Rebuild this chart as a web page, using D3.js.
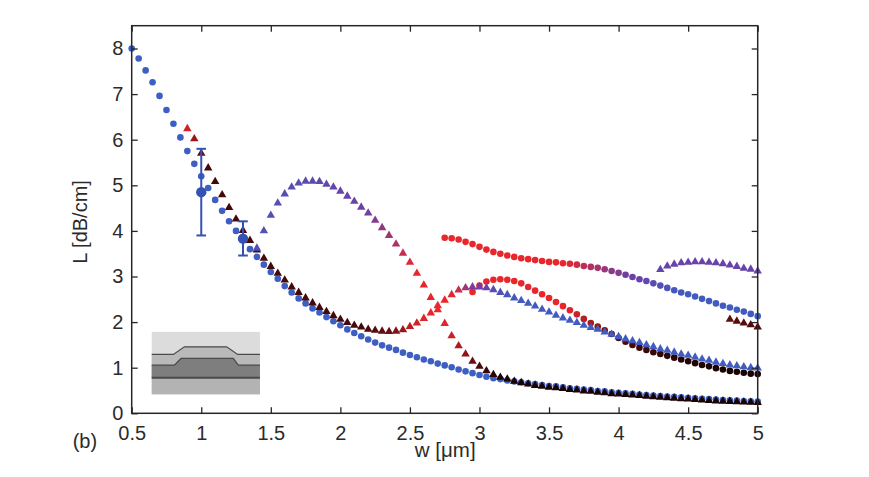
<!DOCTYPE html>
<html><head><meta charset="utf-8">
<script src="https://cdn.jsdelivr.net/npm/d3@7"></script>
<style>
body{margin:0;background:#fff}
svg{display:block}
text{font-family:"Liberation Sans",Arial,Helvetica,sans-serif;fill:#2b2b2b}
</style>
</head><body>
<svg id="chart" width="869" height="477"></svg>
<script>
// ---------- data ----------
const widths = [
0.50,0.55,0.60,0.65,0.70,0.75,0.80,0.85,0.90,0.95,
1.00,1.05,1.10,1.15,1.20,1.25,1.30,1.35,1.40,1.45,
1.50,1.55,1.60,1.65,1.70,1.75,1.80,1.85,1.90,1.95,
2.00,2.05,2.10,2.15,2.20,2.25,2.30,2.35,2.40,2.45,
2.50,2.55,2.60,2.65,2.70,2.75,2.80,2.85,2.90,2.95,
3.00,3.05,3.10,3.15,3.20,3.25,3.30,3.35,3.40,3.45,
3.50,3.55,3.60,3.65,3.70,3.75,3.80,3.85,3.90,3.95,
4.00,4.05,4.10,4.15,4.20,4.25,4.30,4.35,4.40,4.45,
4.50,4.55,4.60,4.65,4.70,4.75,4.80,4.85,4.90,4.95,
5.00];

const xTicks = [0.5,1,1.5,2,2.5,3,3.5,4,4.5,5];
const yTicks = [0,1,2,3,4,5,6,7,8];

// Series A: circles, from w = 0.50
const lossA = [
8.00,7.78,7.52,7.26,6.96,6.65,6.35,6.05,5.75,5.47,
5.20,4.94,4.68,4.44,4.21,4.00,3.80,3.60,3.43,3.26,
3.10,2.95,2.79,2.65,2.52,2.41,2.30,2.21,2.11,2.02,
1.93,1.84,1.76,1.69,1.62,1.55,1.49,1.44,1.39,1.33,
1.28,1.23,1.18,1.14,1.09,1.05,1.01,0.96,0.92,0.88,
0.84,0.80,0.77,0.75,0.72,0.70,0.68,0.66,0.64,0.62,
0.60,0.59,0.57,0.55,0.54,0.52,0.51,0.49,0.48,0.46,
0.45,0.44,0.43,0.41,0.40,0.39,0.38,0.37,0.36,0.35,
0.34,0.33,0.32,0.31,0.30,0.29,0.285,0.28,0.27,0.265,
0.26];
const toneA = 0.0;

// Series B: triangles, from w = 0.90
const lossB = [
6.24,6.02,
5.70,5.38,5.08,4.79,4.51,4.26,4.01,3.79,3.58,3.40,
3.22,3.07,2.92,2.77,2.65,2.53,2.42,2.32,2.23,2.14,
2.06,1.99,1.93,1.89,1.84,1.82,1.80,1.79,1.80,1.83,
1.90,1.98,2.08,2.20,2.36,2.48,2.60,2.70,2.75,2.77,
2.77,2.75,2.71,2.65,2.60,2.53,2.47,2.41,2.35,2.28,
2.22,2.15,2.09,2.04,1.99,1.93,1.88,1.84,1.78,1.73,
1.68,1.63,1.59,1.55,1.50,1.46,1.41,1.38,1.34,1.30,
1.27,1.23,1.19,1.16,1.12,1.09,1.06,1.04,1.02,1.00,
0.99];
const toneB = [
0.64,0.74,
0.84,0.90,0.90,0.90,0.90,0.90,0.90,0.90,0.90,0.90,
0.90,0.90,0.90,0.90,0.90,0.90,0.90,0.90,0.90,0.90,
0.90,0.90,0.90,0.90,0.88,0.86,0.84,0.82,0.78,0.74,
0.68,0.64,0.61,0.60,0.60,0.60,0.58,0.52,0.42,0.34,
0.30,0.24,0.18,0.12,0.08,0.05,0.03,0.03,0.03,0.03,
0.03,0.03,0.03,0.03,0.03,0.03,0.03,0.03,0.03,0.03,
0.03,0.03,0.03,0.03,0.03,0.03,0.03,0.03,0.03,0.03,
0.03,0.03,0.03,0.03,0.03,0.03,0.03,0.03,0.03,0.03,
0.03];

// Series C: triangles, from w = 1.40
const lossC = [
3.62,4.00,
4.34,4.61,4.81,4.96,5.05,5.09,5.09,5.08,5.02,4.96,
4.87,4.76,4.65,4.52,4.39,4.23,4.07,3.90,3.71,3.51,
3.31,3.07,2.81,2.54,2.27,1.97,1.70,1.48,1.30,1.14,
1.03,0.93,0.85,0.79,0.75,0.70,0.67,0.64,0.61,0.59,
0.57,0.56,0.54,0.52,0.51,0.49,0.48,0.46,0.45,0.43,
0.42,0.41,0.40,0.39,0.37,0.36,0.35,0.34,0.33,0.32,
0.31,0.30,0.29,0.28,0.27,0.265,0.26,0.25,0.245,0.24,
0.235];
const toneC = [
0.12,0.13,
0.14,0.15,0.16,0.17,0.18,0.19,0.20,0.21,0.22,0.23,
0.25,0.27,0.28,0.30,0.32,0.35,0.38,0.42,0.46,0.52,
0.57,0.60,0.60,0.60,0.60,0.61,0.65,0.70,0.76,0.82,
0.88,0.93,0.97,1,1,1,1,1,1,1,
1,1,1,1,1,1,1,1,1,1,
1,1,1,1,1,1,1,1,1,1,
1,1,1,1,1,1,1,1,1,1,
1];

// Series D: circles, from w = 2.95
const lossD = [
2.66,
2.80,2.89,2.93,2.94,2.93,2.90,2.85,2.77,2.69,2.61,
2.53,2.44,2.35,2.26,2.17,2.07,1.98,1.90,1.82,1.74,
1.65,1.57,1.50,1.44,1.39,1.34,1.30,1.26,1.22,1.18,
1.14,1.10,1.06,1.03,0.99,0.96,0.93,0.91,0.89,0.87,
0.86];
const toneD = [
0.60,
0.60,0.60,0.60,0.60,0.60,0.60,0.60,0.60,0.60,0.60,
0.60,0.60,0.60,0.62,0.65,0.68,0.72,0.76,0.80,0.84,
0.87,0.89,0.90,0.91,0.92,0.93,0.94,0.95,0.96,0.97,
0.98,0.98,0.99,0.99,1,1,1,1,1,1,
1];

// Series E: circles, from w = 2.75
const lossE = [
3.85,3.84,3.81,3.76,3.71,
3.65,3.59,3.54,3.50,3.46,3.43,3.40,3.38,3.36,3.34,
3.32,3.31,3.29,3.28,3.26,3.23,3.21,3.19,3.16,3.12,
3.08,3.04,2.99,2.94,2.90,2.85,2.80,2.75,2.70,2.65,
2.61,2.56,2.51,2.46,2.41,2.36,2.32,2.27,2.23,2.18,
2.13];
const toneE = [
0.60,0.60,0.60,0.60,0.60,
0.60,0.60,0.60,0.60,0.60,0.60,0.60,0.60,0.60,0.60,
0.60,0.60,0.60,0.57,0.54,0.50,0.47,0.44,0.41,0.38,
0.35,0.32,0.29,0.26,0.22,0.18,0.14,0.10,0.07,0.04,
0.02,0.02,0.02,0.02,0.02,0.02,0.02,0.02,0.02,0.02,
0.02];

// Series F: triangles, from w = 4.30
const lossF = [3.15,3.23,3.27,3.30,3.31,3.32,3.32,3.31,3.30,3.28,3.25,3.22,3.18,3.16,3.12];
const toneF = [0.24,0.26,0.26,0.26,0.26,0.26,0.26,0.26,0.26,0.26,0.26,0.26,0.26,0.26,0.26];

// Series G: triangles, from w = 4.80
const lossG = [2.06,2.02,1.98,1.94,1.89];
const toneG = [0.84,0.85,0.86,0.87,0.88];

// Measurements with error bars
const expW = [1.0, 1.3];
const expL = [4.85, 3.83];
const expLow = [3.90, 3.46];
const expHigh = [5.80, 4.21];

// ---------- chart ----------
const svg = d3.select("#chart");
const x = d3.scaleLinear().domain([0.5, 5]).range([131.7, 757.7]);
const y = d3.scaleLinear().domain([0, 8.5]).range([413.3, 25.7]);

const tone = d3.scaleLinear()
  .domain([0, 0.3, 0.6, 0.85, 1])
  .range(["#3d5ec2", "#6d40a6", "#e8262c", "#5a0c0d", "#1a0303"])
  .interpolate(d3.interpolateRgb);

function build(loss, startW, tones) {
  const s = widths.indexOf(startW);
  return loss.map((L, i) => ({
    w: widths[s + i], L,
    t: Array.isArray(tones) ? tones[i] : tones
  }));
}

const seriesCircles = [
  build(lossA, 0.50, toneA),
  build(lossE, 2.75, toneE),
  build(lossD, 2.95, toneD)
];
const seriesTriangles = [
  build(lossB, 0.90, toneB),
  build(lossC, 1.40, toneC),
  build(lossF, 4.30, toneF),
  build(lossG, 4.80, toneG)
];

// inset (cross-section sketch), placed in data units
const inset = {w0: 0.644, w1: 1.422, L0: 0.416, L1: 1.786};
const ig = svg.append("g");
const ix0 = x(inset.w0), ix1 = x(inset.w1), iy0 = y(inset.L1), iy1 = y(inset.L0);
const iw = ix1 - ix0, ih = iy1 - iy0;
const P = (fx, fy) => [ix0 + fx * iw, iy0 + fy * ih];
ig.append("rect").attr("x", ix0).attr("y", iy0).attr("width", iw).attr("height", ih).attr("fill", "#dcdcdc");
const topLine = [P(0,0.362),P(0.2,0.362),P(0.302,0.239),P(0.692,0.239),P(0.794,0.362),P(1,0.362)];
const midLine = [P(0,0.532),P(0.209,0.532),P(0.271,0.426),P(0.754,0.426),P(0.8,0.532),P(1,0.532)];
const line = d3.line();
ig.append("path").attr("d", line(topLine.concat([P(1,0.734),P(0,0.734)])) + "Z").attr("fill", "#b9b9b9");
ig.append("path").attr("d", line(midLine.concat([P(1,0.734),P(0,0.734)])) + "Z").attr("fill", "#7e7e7e");
ig.append("rect").attr("x", ix0).attr("y", P(0,0.734)[1]).attr("width", iw).attr("height", ih * (1 - 0.734)).attr("fill", "#b3b3b3");
ig.append("path").attr("d", line(topLine)).attr("fill", "none").attr("stroke", "#4a4a4a").attr("stroke-width", 1.2);
ig.append("path").attr("d", line(midLine)).attr("fill", "none").attr("stroke", "#4a4a4a").attr("stroke-width", 1.2);
ig.append("line").attr("x1", ix0).attr("x2", ix1).attr("y1", P(0,0.734)[1]).attr("y2", P(0,0.734)[1])
  .attr("stroke", "#4a4a4a").attr("stroke-width", 2);

// circles
const gc = svg.append("g");
seriesCircles.forEach(s => {
  gc.selectAll(null).data(s).join("circle")
    .attr("cx", d => x(d.w)).attr("cy", d => y(d.L)).attr("r", 3.3)
    .attr("fill", d => tone(d.t));
});
// triangles
const tri = d3.symbol().type(d3.symbolTriangle).size(31);
const gt = svg.append("g");
seriesTriangles.forEach(s => {
  gt.selectAll(null).data(s).join("path")
    .attr("d", tri)
    .attr("transform", d => `translate(${x(d.w)},${y(d.L)})`)
    .attr("fill", d => tone(d.t));
});

// error bars
const ge = svg.append("g").attr("stroke", "#3551b2").attr("stroke-width", 2);
expW.forEach((w, i) => {
  ge.append("line").attr("x1", x(w)).attr("x2", x(w)).attr("y1", y(expLow[i])).attr("y2", y(expHigh[i]));
  [expLow[i], expHigh[i]].forEach(v => {
    ge.append("line").attr("x1", x(w) - 4.8).attr("x2", x(w) + 4.8).attr("y1", y(v)).attr("y2", y(v));
  });
  svg.append("circle").attr("cx", x(w)).attr("cy", y(expL[i])).attr("r", 5.2).attr("fill", "#3551b2");
});

// axes
const axisColor = "#262626";
function style(g) {
  g.select(".domain").remove();
  g.selectAll("line").attr("stroke", axisColor).attr("stroke-width", 1.3);
  g.selectAll("text").attr("font-size", 20).attr("fill", "#2b2b2b")
    .attr("font-family", '"Liberation Sans",Arial,sans-serif');
}
svg.append("g").attr("transform", `translate(0,${y(0)})`)
  .call(d3.axisBottom(x).tickValues(xTicks).tickSizeInner(-6).tickSizeOuter(0).tickPadding(12.5)
    .tickFormat(d3.format("")))
  .call(style);
svg.append("g").attr("transform", `translate(0,${y(8.5)})`)
  .call(d3.axisTop(x).tickValues(xTicks).tickSizeInner(-6).tickSizeOuter(0).tickFormat(""))
  .call(style);
svg.append("g").attr("transform", `translate(${x(0.5)},0)`)
  .call(d3.axisLeft(y).tickValues(yTicks).tickSizeInner(-6).tickSizeOuter(0).tickPadding(8.4))
  .call(style);
svg.append("g").attr("transform", `translate(${x(5)},0)`)
  .call(d3.axisRight(y).tickValues(yTicks).tickSizeInner(-6).tickSizeOuter(0).tickFormat(""))
  .call(style);
svg.append("rect").attr("x", x(0.5)).attr("y", y(8.5)).attr("width", x(5) - x(0.5)).attr("height", y(0) - y(8.5))
  .attr("fill", "none").attr("stroke", axisColor).attr("stroke-width", 1.5);

// labels
svg.append("text").attr("x", (x(0.5) + x(5)) / 2 + 0.5).attr("y", 457).attr("text-anchor", "middle")
  .attr("font-size", 20.5).text("w [μm]");
svg.append("text").attr("transform", `translate(86.5,${222}) rotate(-90)`).attr("text-anchor", "middle")
  .attr("font-size", 20).text("L [dB/cm]");
svg.append("text").attr("x", 72.7).attr("y", 448).attr("font-size", 20).text("(b)");
</script>
</body></html>
